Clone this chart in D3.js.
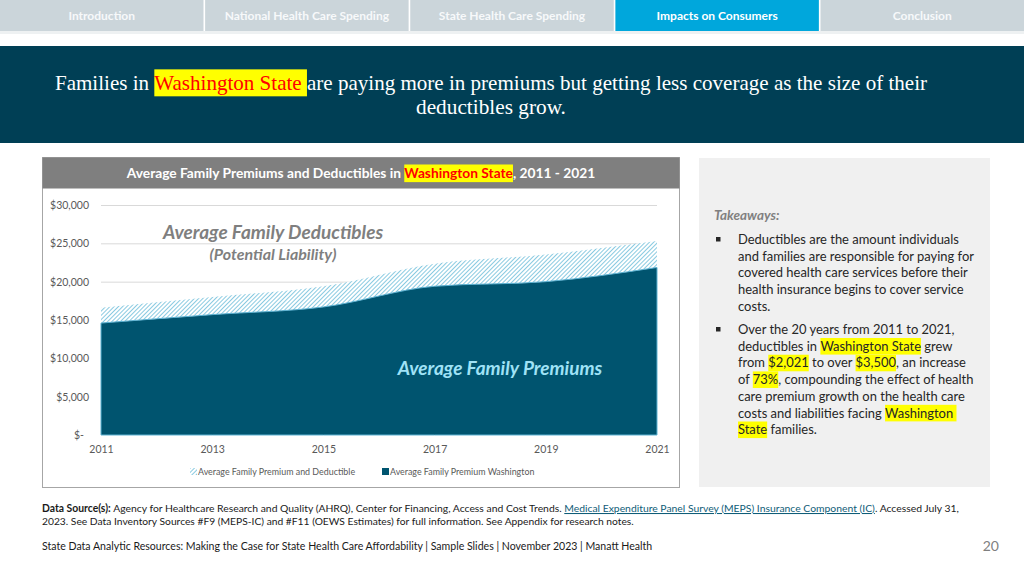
<!DOCTYPE html>
<html><head><meta charset="utf-8">
<script src="https://cdn.jsdelivr.net/npm/d3@7"></script>
<style>html,body{margin:0;padding:0;background:#fff;overflow:hidden}svg{display:block}</style>
</head><body>
<script>
// ---------- data ----------
const navTabs = ["Introduction", "National Health Care Spending", "State Health Care Spending", "Impacts on Consumers", "Conclusion"];
const activeTab = "Impacts on Consumers";
const years = [2011, 2013, 2015, 2017, 2019, 2021];
const premiumWashington = [14600, 15700, 16700, 19400, 20000, 21850];
const premiumAndDeductible = [16600, 18000, 19400, 22350, 23550, 25300];
const yTicks = [0, 5000, 10000, 15000, 20000, 25000, 30000];
const xTicks = [2011, 2013, 2015, 2017, 2019, 2021];
const seriesNames = ["Average Family Premium and Deductible", "Average Family Premium Washington"];

const W = 1024, H = 576;
const FONT = "Lato, 'Open Sans', sans-serif";
const SERIF = "'Liberation Serif', 'DejaVu Serif', serif";
const svg = d3.select("body").append("svg").attr("width", W).attr("height", H);

function richLine(parent, segs, x, y, o) {
  const g = parent.append("g");
  let size = o.size;
  const items = segs.map(s => {
    const t = g.append("text").attr("y", y).style("white-space", "pre")
      .attr("font-family", o.font || FONT).attr("font-size", size)
      .attr("font-weight", s.bold ? "bold" : (o.weight || "normal"))
      .attr("font-style", o.style || "normal")
      .attr("fill", s.color || o.color)
      .attr("text-decoration", s.underline ? "underline" : null)
      .text(s.text);
    return { t, s };
  });
  let total = d3.sum(items, d => d.t.node().getComputedTextLength());
  if (o.fit) {
    size = size * o.fit / total;
    items.forEach(d => d.t.attr("font-size", size));
  }
  items.forEach(d => d.w = d.t.node().getComputedTextLength());
  total = d3.sum(items, d => d.w);
  let cx = o.anchor === "middle" ? x - total / 2 : (o.anchor === "end" ? x - total : x);
  items.forEach(it => {
    it.t.attr("x", cx);
    if (it.s.hl) g.insert("rect", "text").attr("x", cx).attr("y", y - size * 0.98)
      .attr("width", it.w).attr("height", size * 1.28).attr("fill", it.s.hl);
    cx += it.w;
  });
  return g;
}

// ---------- nav bar ----------
const nav = d3.scaleBand().domain(navTabs).range([0, W]).paddingInner(0.008);
svg.append("rect").attr("x", 0).attr("y", 31).attr("width", W).attr("height", 3).attr("fill", "#eef1f2");
svg.selectAll("rect.tab").data(navTabs).join("rect").attr("class", "tab")
  .attr("x", d => nav(d)).attr("y", 0).attr("width", nav.bandwidth()).attr("height", 31)
  .attr("fill", d => d === activeTab ? "#00a7dc" : "#cbd5da");
svg.selectAll("text.tab").data(navTabs).join("text").attr("class", "tab")
  .attr("x", d => nav(d) + nav.bandwidth() / 2).attr("y", 20)
  .attr("text-anchor", "middle").attr("font-family", FONT).attr("font-size", 12)
  .attr("font-weight", "bold")
  .attr("fill", d => d === activeTab ? "#ffffff" : "#f7f9fa").text(d => d);

// ---------- header band ----------
svg.append("rect").attr("x", 0).attr("y", 46).attr("width", W).attr("height", 97).attr("fill", "#003f55");
richLine(svg, [
  { text: "Families in " },
  { text: "Washington State ", hl: "#ffff00", color: "#ff0000" },
  { text: "are paying more in premiums but getting less coverage as the size of their" }
], 491, 90, { font: SERIF, size: 20, color: "#ffffff", anchor: "middle", fit: 873 });
richLine(svg, [{ text: "deductibles grow." }], 491, 114, { font: SERIF, size: 20, color: "#ffffff", anchor: "middle", fit: 150 });

// ---------- chart panel ----------
svg.append("rect").attr("x", 42.5).attr("y", 157.5).attr("width", 637).attr("height", 330)
  .attr("fill", "#fff").attr("stroke", "#a6a6a6");
svg.append("rect").attr("x", 42.5).attr("y", 157.5).attr("width", 637).attr("height", 31).attr("fill", "#7f7f7f");
richLine(svg, [
  { text: "Average Family Premiums and Deductibles in " },
  { text: "Washington State", hl: "#ffff00", color: "#ff0000" },
  { text: ", 2011 - 2021" }
], 361, 178, { size: 12.5, weight: "bold", color: "#ffffff", anchor: "middle", fit: 469 });

const x = d3.scaleLinear().domain([2011, 2021]).range([101, 657]);
const y = d3.scaleLinear().domain([0, 30000]).range([435, 205]);

const defs = svg.append("defs");
const pat = defs.append("pattern").attr("id", "hatch").attr("patternUnits", "userSpaceOnUse")
  .attr("width", 3).attr("height", 3).attr("patternTransform", "rotate(45)");
pat.append("rect").attr("width", 3).attr("height", 3).attr("fill", "#ffffff");
pat.append("line").attr("x1", 0).attr("y1", 0).attr("x2", 0).attr("y2", 3)
  .attr("stroke", "#62b8d8").attr("stroke-width", 1.5);

// gridlines
svg.append("g").selectAll("line").data(yTicks.filter(d => d > 0)).join("line")
  .attr("x1", x(2011)).attr("x2", x(2021)).attr("y1", d => y(d) + 0.5).attr("y2", d => y(d) + 0.5)
  .attr("stroke", "#d9d9d9");

const fmt = d => d === 0 ? "$-" : "$" + d3.format(",")(d);
const yAxis = svg.append("g").attr("transform", "translate(89,0)")
  .call(d3.axisLeft(y).tickValues(yTicks).tickFormat(fmt).tickSize(0).tickPadding(0));
yAxis.select(".domain").remove();
yAxis.selectAll("text").attr("font-family", FONT).attr("font-size", 10.5).attr("fill", "#595959")
  .attr("dx", d => d === 0 ? -5 : 0);

const xAxis = svg.append("g").attr("transform", "translate(0,446)")
  .call(d3.axisBottom(x).tickValues(xTicks).tickFormat(d3.format("d")).tickSize(0).tickPadding(0));
xAxis.select(".domain").remove();
xAxis.selectAll("text").attr("font-family", FONT).attr("font-size", 10.5).attr("fill", "#595959").attr("dy", "0.71em");

const pts = years.map((yr, i) => ({ yr, prem: premiumWashington[i], tot: premiumAndDeductible[i] }));
const areaTot = d3.area().x(d => x(d.yr)).y0(y(0)).y1(d => y(d.tot)).curve(d3.curveMonotoneX);
const areaPrem = d3.area().x(d => x(d.yr)).y0(y(0)).y1(d => y(d.prem)).curve(d3.curveMonotoneX);
svg.append("path").datum(pts).attr("d", areaTot).attr("fill", "url(#hatch)");
svg.append("path").datum(pts).attr("d", areaPrem).attr("fill", "#00546f").attr("stroke", "#5fb3d3").attr("stroke-width", 1);

// annotations
svg.append("text").attr("x", 273).attr("y", 239).attr("text-anchor", "middle")
  .attr("font-family", FONT).attr("font-size", 19).attr("font-weight", "bold").attr("font-style", "italic")
  .attr("fill", "#7f7f7f").text("Average Family Deductibles");
svg.append("text").attr("x", 273).attr("y", 260).attr("text-anchor", "middle")
  .attr("font-family", FONT).attr("font-size", 16).attr("font-weight", "bold").attr("font-style", "italic")
  .attr("fill", "#7f7f7f").text("(Potential Liability)");
svg.append("text").attr("x", 500).attr("y", 375).attr("text-anchor", "middle")
  .attr("font-family", FONT).attr("font-size", 19).attr("font-weight", "bold").attr("font-style", "italic")
  .attr("fill", "#9fe2f6").text("Average Family Premiums");

// legend
const leg = svg.append("g");
const legX = [190, 382];
leg.selectAll("rect").data(seriesNames).join("rect")
  .attr("x", (d, i) => legX[i]).attr("y", 468).attr("width", 7).attr("height", 7)
  .attr("fill", (d, i) => i === 0 ? "url(#hatch)" : "#00546f");
leg.selectAll("text").data(seriesNames).join("text")
  .attr("x", (d, i) => legX[i] + 8).attr("y", 475)
  .attr("font-family", FONT).attr("font-size", 8.9).attr("fill", "#595959").text(d => d);

// ---------- takeaways panel ----------
svg.append("rect").attr("x", 699).attr("y", 158).attr("width", 291).attr("height", 329).attr("fill", "#f0f0f0");
svg.append("text").attr("x", 714).attr("y", 220).attr("font-family", FONT).attr("font-size", 13.5)
  .attr("font-style", "italic").attr("font-weight", "bold").attr("fill", "#808080").text("Takeaways:");

const HL = "#ffff00";
const bullets = [
  [[{ text: "Deductibles are the amount individuals" }],
   [{ text: "and families are responsible for paying for" }],
   [{ text: "covered health care services before their" }],
   [{ text: "health insurance begins to cover service" }],
   [{ text: "costs." }]],
  [[{ text: "Over the 20 years from 2011 to 2021," }],
   [{ text: "deductibles in " }, { text: "Washington State", hl: HL }, { text: " grew" }],
   [{ text: "from " }, { text: "$2,021", hl: HL }, { text: " to over " }, { text: "$3,500", hl: HL }, { text: ", an increase" }],
   [{ text: "of " }, { text: "73%", hl: HL }, { text: ", compounding the effect of health" }],
   [{ text: "care premium growth on the health care" }],
   [{ text: "costs and liabilities facing " }, { text: "Washington ", hl: HL }],
   [{ text: "State", hl: HL }, { text: " families." }]]
];
const bulletTop = [244, 334];
const LH = 16.7;
bullets.forEach((lines, bi) => {
  svg.append("rect").attr("x", 716).attr("y", bulletTop[bi] - 7).attr("width", 4.5).attr("height", 4.5).attr("fill", "#262626");
  lines.forEach((segs, li) => {
    richLine(svg, segs, 738, bulletTop[bi] + li * LH, { size: 12.95, color: "#262626" });
  });
});

// ---------- footer ----------
richLine(svg, [
  { text: "Data Source(s): ", bold: true },
  { text: "Agency for Healthcare Research and Quality (AHRQ), Center for Financing, Access and Cost Trends. " },
  { text: "Medical Expenditure Panel Survey (MEPS) Insurance Component (IC)", color: "#0f5d78", underline: true },
  { text: ". Accessed July 31," }
], 42, 512, { size: 9.5, color: "#1a1a1a", fit: 918 });
richLine(svg, [
  { text: "2023. See Data Inventory Sources #F9 (MEPS-IC) and #F11 (OEWS Estimates) for full information. See Appendix for research notes." }
], 42, 525, { size: 9.5, color: "#1a1a1a", fit: 592 });
richLine(svg, [
  { text: "State Data Analytic Resources: Making the Case for State Health Care Affordability | Sample Slides | November 2023 | Manatt Health" }
], 42, 550, { size: 10, color: "#1a1a1a", fit: 611 });
svg.append("text").attr("x", 999).attr("y", 551).attr("text-anchor", "end")
  .attr("font-family", FONT).attr("font-size", 14).attr("fill", "#7f7f7f").text("20");
</script>
</body></html>
